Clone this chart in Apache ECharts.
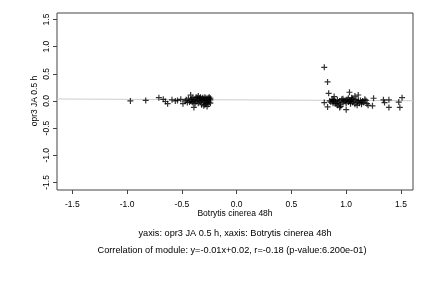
<!DOCTYPE html>
<html>
<head>
<meta charset="utf-8">
<script src="https://cdn.jsdelivr.net/npm/echarts@6/dist/echarts.min.js"></script>
<style>
  html, body { margin: 0; padding: 0; background: #fff; }
  #chart { width: 432px; height: 288px; }
</style>
</head>
<body>
<div id="chart"></div>
<script>
// points, left cluster then right cluster
const leftPoints = [
  [-0.97, 0.0], [-0.83, 0.01], [-0.71, 0.06], [-0.67, 0.03], [-0.65, -0.01], [-0.63, -0.05],
  [-0.59, 0.02], [-0.56, 0.0], [-0.54, 0.01], [-0.51, 0.03], [-0.49, -0.05], [-0.47, 0.0],
  [-0.46, 0.02], [-0.45, -0.03], [-0.44, 0.05], [-0.43, -0.02], [-0.42, 0.11], [-0.42, 0.0],
  [-0.41, 0.04], [-0.40, -0.03], [-0.40, 0.06], [-0.39, 0.01], [-0.39, -0.12], [-0.38, 0.03],
  [-0.37, -0.01], [-0.37, 0.07], [-0.36, 0.02], [-0.35, -0.04], [-0.35, 0.09], [-0.34, 0.0],
  [-0.34, 0.05], [-0.33, -0.02], [-0.33, 0.07], [-0.32, 0.03], [-0.32, -0.07], [-0.31, 0.01],
  [-0.31, 0.06], [-0.30, -0.03], [-0.30, 0.04], [-0.30, -0.09], [-0.29, 0.02], [-0.29, 0.07],
  [-0.28, -0.05], [-0.28, 0.0], [-0.28, 0.05], [-0.27, -0.02], [-0.27, 0.03], [-0.27, -0.10],
  [-0.26, 0.06], [-0.26, 0.01], [-0.26, -0.06], [-0.25, 0.04], [-0.25, -0.02], [-0.25, 0.07],
  [-0.24, 0.02], [-0.24, -0.04], [-0.24, 0.05], [-0.36, 0.06], [-0.38, -0.05], [-0.41, -0.01],
  [-0.29, -0.07], [-0.33, 0.04]
];
const rightPoints = [
  [0.80, 0.62], [0.83, 0.35], [0.84, 0.14], [0.80, -0.03], [0.83, -0.11], [0.89, 0.08],
  [0.88, -0.01], [0.90, -0.05], [0.94, -0.12], [1.00, -0.16], [1.03, 0.16], [1.05, 0.06],
  [1.08, 0.09], [1.11, 0.11], [1.17, 0.03], [1.20, -0.08], [1.24, -0.09], [1.25, 0.05],
  [1.34, 0.02], [1.35, -0.03], [1.39, 0.02], [1.39, -0.12], [1.48, -0.02], [1.49, -0.12],
  [1.51, 0.06],
  [0.85, 0.0], [0.86, -0.02], [0.87, 0.02], [0.88, -0.04], [0.89, 0.01], [0.90, -0.01],
  [0.91, -0.05], [0.92, 0.02], [0.93, -0.02], [0.94, 0.0], [0.95, -0.06], [0.96, 0.03],
  [0.97, -0.03], [0.98, 0.01], [0.99, -0.01], [1.00, -0.04], [1.01, 0.02], [1.02, -0.02],
  [1.03, 0.0], [1.04, -0.05], [1.05, 0.02], [1.06, -0.03], [1.07, 0.0], [1.08, -0.06],
  [1.09, 0.03], [1.10, -0.02], [1.11, 0.0], [1.12, -0.04], [1.13, 0.01], [1.14, -0.02],
  [1.15, 0.0], [1.16, -0.03], [1.18, 0.01], [1.19, -0.05], [0.92, -0.08], [0.95, -0.10],
  [0.97, 0.04], [1.02, 0.05], [1.06, 0.04], [1.10, -0.08], [1.14, -0.06], [0.88, 0.03],
  [1.00, 0.02], [1.04, -0.01]
];
const xTicks = [-1.5, -1.0, -0.5, 0.0, 0.5, 1.0, 1.5];
const yTicks = [-1.5, -1.0, -0.5, 0.0, 0.5, 1.0, 1.5];
const xRange = [-1.64, 1.61];
const yRange = [-1.64, 1.62];
const fitCoef = [-0.01, 0.02]; // slope, intercept

const fitLine = xRange.map(x => [x, fitCoef[0] * x + fitCoef[1]]);

const font = '"Liberation Sans", Arial, sans-serif';
const plus = 'path://M-0.5,-2.5H0.5V-0.5H2.5V0.5H0.5V2.5H-0.5V0.5H-2.5V-0.5H-0.5Z';

const chart = echarts.init(document.getElementById('chart'), null, { renderer: 'canvas' });
chart.setOption({
  animation: false,
  grid: {
    left: 57, top: 13, right: 19, bottom: 98,
    show: true, borderColor: '#444', borderWidth: 1, backgroundColor: 'transparent'
  },
  xAxis: {
    type: 'value', min: xRange[0], max: xRange[1],
    axisLine: { show: false, onZero: false },
    splitLine: { show: false },
    axisTick: { show: true, customValues: xTicks, length: 4, inside: false, lineStyle: { color: '#444' } },
    axisLabel: {
      customValues: xTicks, margin: 10, fontSize: 8.5, color: '#000', fontFamily: font,
      formatter: v => v.toFixed(1)
    }
  },
  yAxis: {
    type: 'value', min: yRange[0], max: yRange[1],
    axisLine: { show: false, onZero: false },
    splitLine: { show: false },
    axisTick: { show: true, customValues: yTicks, length: 4, inside: false, lineStyle: { color: '#444' } },
    axisLabel: {
      customValues: yTicks, margin: 6, fontSize: 8.5, color: '#000', fontFamily: font,
      rotate: 90, formatter: v => v.toFixed(1)
    }
  },
  series: [
    {
      type: 'line', data: fitLine, symbol: 'none', silent: true,
      lineStyle: { color: '#cccccc', width: 1 }, z: 1
    },
    {
      type: 'scatter', data: leftPoints.concat(rightPoints),
      symbol: plus, symbolSize: 6, itemStyle: { color: '#000' }, z: 2
    }
  ],
  graphic: [
    { type: 'text', x: 235, y: 214, style: { text: 'Botrytis cinerea 48h', font: '8.5px ' + font, fill: '#000', textAlign: 'center', textVerticalAlign: 'middle' } },
    { type: 'text', x: 35, y: 101, rotation: Math.PI / 2, style: { text: 'opr3 JA 0.5 h', font: '8.5px ' + font, fill: '#000', textAlign: 'center', textVerticalAlign: 'middle' } },
    { type: 'text', x: 235, y: 233, style: { text: 'yaxis: opr3 JA 0.5 h, xaxis: Botrytis cinerea 48h', font: '9.2px ' + font, fill: '#000', textAlign: 'center', textVerticalAlign: 'middle' } },
    { type: 'text', x: 232, y: 250, style: { text: 'Correlation of module: y=-0.01x+0.02, r=-0.18 (p-value:6.200e-01)', font: '9.2px ' + font, fill: '#000', textAlign: 'center', textVerticalAlign: 'middle' } }
  ]
});
</script>
</body>
</html>
